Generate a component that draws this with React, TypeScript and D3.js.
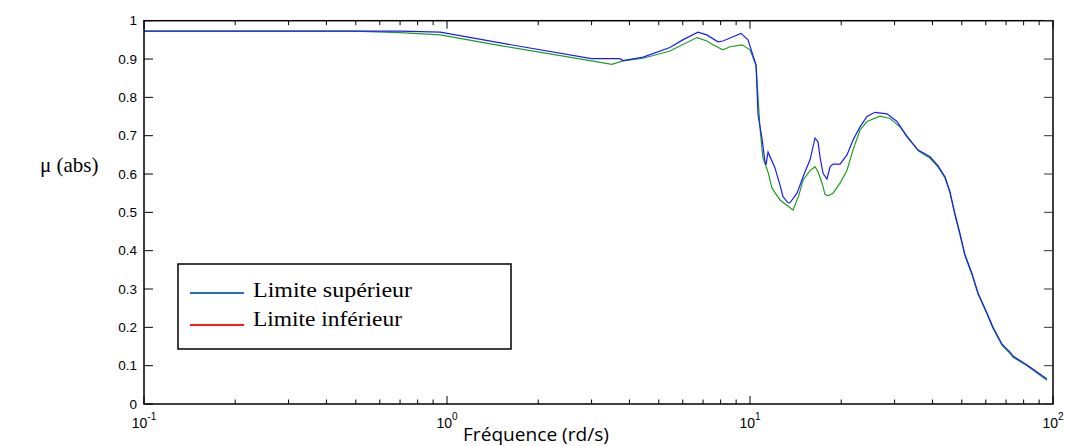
import React from "react";
import * as d3 from "d3";

// Frequencies (rd/s) and μ values
const upperFreq = [0.1, 0.49, 0.7, 0.95, 1.5, 3.0, 3.72, 3.81, 4.44, 5.44, 6.0, 6.73, 7.2, 7.84, 8.14, 8.79, 9.34, 9.85, 10.47, 10.63, 10.95, 11.21, 11.29, 11.47, 12.09, 12.56, 12.85, 13.35, 13.55, 14.29, 15.19, 15.78, 16.39, 16.77, 17.02, 17.42, 17.95, 18.37, 18.79, 19.82, 20.9, 21.88, 23.07, 24.33, 25.85, 28.3, 30.56, 32.97, 35.8, 39.3, 41.7, 44.0, 45.7, 47.5, 49.3, 51.2, 54.0, 56.6, 60.6, 63.4, 67.9, 72.4, 73.8, 82.1, 95.5];
const upperMu = [0.973, 0.973, 0.973, 0.970, 0.942, 0.901, 0.901, 0.896, 0.905, 0.930, 0.950, 0.970, 0.963, 0.945, 0.947, 0.958, 0.967, 0.950, 0.884, 0.754, 0.694, 0.631, 0.624, 0.657, 0.616, 0.571, 0.541, 0.525, 0.525, 0.550, 0.606, 0.637, 0.694, 0.684, 0.645, 0.602, 0.587, 0.619, 0.626, 0.626, 0.650, 0.689, 0.723, 0.750, 0.761, 0.757, 0.737, 0.697, 0.663, 0.645, 0.622, 0.593, 0.554, 0.495, 0.445, 0.390, 0.341, 0.289, 0.237, 0.200, 0.156, 0.134, 0.125, 0.102, 0.065];

const lowerFreq = [0.1, 0.49, 0.7, 0.95, 1.5, 3.0, 3.5, 3.81, 4.44, 5.44, 6.68, 7.21, 7.55, 8.14, 8.59, 9.41, 10.0, 10.47, 10.79, 11.03, 11.47, 11.82, 12.56, 13.87, 14.5, 14.96, 15.78, 16.39, 16.77, 17.29, 17.68, 18.09, 18.79, 19.82, 20.9, 21.88, 23.07, 24.33, 26.85, 28.98, 31.27, 33.73, 36.0, 39.3, 41.7, 44.0, 45.7, 47.5, 49.3, 51.2, 54.0, 56.6, 60.6, 63.4, 67.9, 72.4, 73.8, 82.1, 95.5];
const lowerMu = [0.973, 0.973, 0.969, 0.963, 0.935, 0.895, 0.886, 0.895, 0.902, 0.921, 0.956, 0.947, 0.937, 0.924, 0.932, 0.937, 0.924, 0.884, 0.720, 0.642, 0.605, 0.563, 0.532, 0.506, 0.545, 0.584, 0.609, 0.619, 0.606, 0.576, 0.547, 0.543, 0.550, 0.576, 0.610, 0.663, 0.715, 0.737, 0.751, 0.745, 0.723, 0.689, 0.660, 0.641, 0.619, 0.590, 0.551, 0.492, 0.442, 0.387, 0.338, 0.286, 0.234, 0.197, 0.153, 0.131, 0.122, 0.100, 0.062];

const yTicks = [0, 0.1, 0.2, 0.3, 0.4, 0.5, 0.6, 0.7, 0.8, 0.9, 1];
const yTickLabels = ["0", "0.1", "0.2", "0.3", "0.4", "0.5", "0.6", "0.7", "0.8", "0.9", "1"];
const xMajor = [0.1, 1, 10, 100];
const xMajorExp = ["-1", "0", "1", "2"];
const legendLabels = ["Limite supérieur", "Limite inférieur"];
const legendColors = ["#1f6fc4", "#ff1a1a"];

const W = 1067;
const H = 446;
const L = 144, R = 1053, T = 20.7, B = 404;

export default function App() {
  const x = d3.scaleLog().domain([0.1, 100]).range([L, R]);
  const y = d3.scaleLinear().domain([0, 1]).range([B, T]);
  const line = d3
    .line<[number, number]>()
    .x((d) => x(d[0]))
    .y((d) => y(d[1]));
  const upper: [number, number][] = upperFreq.map((f, i) => [f, upperMu[i]]);
  const lower: [number, number][] = lowerFreq.map((f, i) => [f, lowerMu[i]]);

  const minor: number[] = [];
  for (const dec of [0.1, 1, 10]) for (let k = 2; k <= 9; k++) minor.push(dec * k);

  const sans = "'Liberation Sans', Arial, sans-serif";
  const serif = "'Liberation Serif', 'Times New Roman', 'DejaVu Serif', serif";

  return (
    <svg width={W} height={H} style={{ position: "absolute", left: 0, top: 0 }} xmlns="http://www.w3.org/2000/svg">
      <rect x={0} y={0} width={W} height={H} fill="#ffffff" />
      {/* curves */}
      <path d={line(lower) || ""} fill="none" stroke="#1e9e1e" strokeWidth={1.2} />
      <path d={line(upper) || ""} fill="none" stroke="#1a1aff" strokeWidth={1.2} />

      {/* frame */}
      <rect x={L} y={T} width={R - L} height={B - T} fill="none" stroke="#000" strokeWidth={1.5} />

      {/* y ticks */}
      {yTicks.map((v, i) => (
        <g key={"y" + i}>
          <line x1={L} x2={L + 9} y1={y(v)} y2={y(v)} stroke="#000" strokeWidth={1} />
          <line x1={R} x2={R - 9} y1={y(v)} y2={y(v)} stroke="#333" strokeWidth={1} />
          <text x={137} y={y(v)} dy="0.35em" textAnchor="end" fontFamily={sans} fontSize={13.5} fill="#000">
            {yTickLabels[i]}
          </text>
        </g>
      ))}

      {/* x ticks */}
      {xMajor.map((v, i) => (
        <g key={"xm" + i}>
          <line x1={x(v)} x2={x(v)} y1={B} y2={B - 8} stroke="#000" strokeWidth={1} />
          <line x1={x(v)} x2={x(v)} y1={T} y2={T + 8} stroke="#000" strokeWidth={1} />
          <text x={x(v)} y={428} textAnchor="middle" fontFamily={sans} fontSize={14} fill="#000">
            10
            <tspan dy={-8} fontSize={10}>{xMajorExp[i]}</tspan>
          </text>
        </g>
      ))}
      {minor.map((v, i) => (
        <g key={"xn" + i}>
          <line x1={x(v)} x2={x(v)} y1={B} y2={B - 4.5} stroke="#000" strokeWidth={1} />
          <line x1={x(v)} x2={x(v)} y1={T} y2={T + 4.5} stroke="#000" strokeWidth={1} />
        </g>
      ))}

      {/* axis titles */}
      <text x={536} y={441} textAnchor="middle" fontFamily="'Open Sans', sans-serif" fontSize={18} textLength={146} lengthAdjust="spacingAndGlyphs" fill="#000">
        Fréquence (rd/s)
      </text>
      <text x={40} y={172} fontFamily={serif} fontSize={21} fill="#000">
        μ (abs)
      </text>

      {/* legend */}
      <rect x={178} y={264} width={333} height={85} fill="#fff" stroke="#000" strokeWidth={1.5} />
      {legendLabels.map((lab, i) => (
        <g key={"lg" + i}>
          <line x1={190} x2={244} y1={293 + i * 32} y2={293 + i * 32} stroke={legendColors[i]} strokeWidth={2} />
          <text x={253} y={297 + i * 29} fontFamily={serif} fontSize={22} textLength={i === 0 ? 159 : 149} lengthAdjust="spacingAndGlyphs" fill="#000">
            {lab}
          </text>
        </g>
      ))}
    </svg>
  );
}
